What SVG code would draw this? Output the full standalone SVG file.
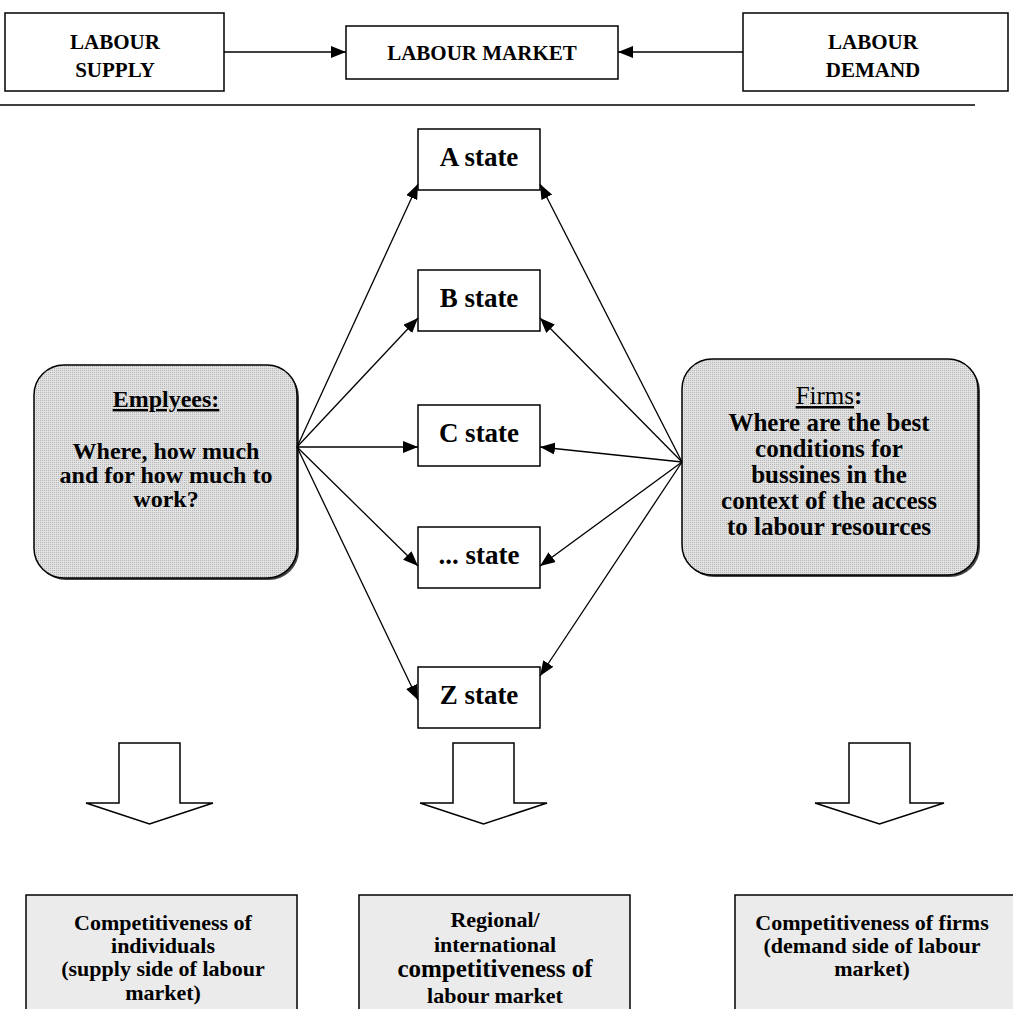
<svg xmlns="http://www.w3.org/2000/svg" width="1013" height="1009" viewBox="0 0 1013 1009">
  <style>
    .box { fill: #ffffff; stroke: #000000; stroke-width: 1.5; }
    .round { fill: url(#dots); stroke: #000000; stroke-width: 1.5; }
    .shadow { fill: #444444; }
    .resfill { fill: #ebebeb; stroke: none; }
    .resline { fill: none; stroke: #000000; stroke-width: 1.5; }
    .big { fill: #ffffff; stroke: #000000; stroke-width: 1.5; stroke-linejoin: miter; }
    .t { font-family: "Liberation Serif", "Times New Roman", serif; font-weight: bold; fill: #000000; text-anchor: middle; }
    .hdr { font-size: 21px; }
    .st { font-size: 27px; }
    .emp { font-size: 24px; }
    .frm { font-size: 25px; }
    .res { font-size: 22px; }
    .conn { stroke: #000000; stroke-width: 1.3; fill: none; }
  </style>
  <defs>
    <!-- fine dotted grey fill for the two actor boxes -->
    <pattern id="dots" patternUnits="userSpaceOnUse" width="2" height="2">
      <rect width="2" height="2" fill="#e2e2e2"/>
      <rect width="1" height="1" fill="#b4b4b4"/>
    </pattern>
    <marker id="head" markerUnits="userSpaceOnUse" markerWidth="16" markerHeight="12" refX="15" refY="6" orient="auto">
      <path d="M0,0 L15,6 L0,12 Z" fill="#000000"/>
    </marker>
  </defs>

  <!-- header row -->
  <g id="labour-supply">
    <rect class="box" x="5" y="13" width="219" height="78"/>
    <text class="t hdr" x="115" y="49">LABOUR</text>
    <text class="t hdr" x="115" y="77">SUPPLY</text>
  </g>
  <g id="labour-market">
    <rect class="box" x="346" y="26" width="272" height="53"/>
    <text class="t hdr" x="482" y="60">LABOUR MARKET</text>
  </g>
  <g id="labour-demand">
    <rect class="box" x="743" y="13" width="265" height="78"/>
    <text class="t hdr" x="873" y="49">LABOUR</text>
    <text class="t hdr" x="873" y="77">DEMAND</text>
  </g>
  <line x1="0" y1="105" x2="975" y2="105" stroke="#000000" stroke-width="1.5"/>

  <!-- states -->
  <g id="state-a">
    <rect class="box" x="418" y="129" width="122" height="61"/>
    <text class="t st" x="479" y="166">A state</text>
  </g>
  <g id="state-b">
    <rect class="box" x="418" y="270" width="122" height="61"/>
    <text class="t st" x="479" y="307">B state</text>
  </g>
  <g id="state-c">
    <rect class="box" x="418" y="405" width="122" height="61"/>
    <text class="t st" x="479" y="442">C state</text>
  </g>
  <g id="state-more">
    <rect class="box" x="418" y="527" width="122" height="61"/>
    <text class="t st" x="479" y="564">... state</text>
  </g>
  <g id="state-z">
    <rect class="box" x="418" y="667" width="122" height="61"/>
    <text class="t st" x="479" y="704">Z state</text>
  </g>

  <!-- actors -->
  <g id="employees">
    <rect class="shadow" x="36" y="367" width="263" height="213" rx="30"/>
    <rect class="round" x="34" y="365" width="263" height="213" rx="30"/>
    <text class="t emp" x="166" y="407" text-decoration="underline">Emplyees:</text>
    <text class="t emp" x="166" y="459">Where, how much</text>
    <text class="t emp" x="166" y="483">and for how much to</text>
    <text class="t emp" x="166" y="507">work?</text>
  </g>
  <g id="firms">
    <rect class="shadow" x="684" y="361" width="296" height="216" rx="30"/>
    <rect class="round" x="682" y="359" width="296" height="216" rx="30"/>
    <text class="t frm" x="829" y="404"><tspan font-weight="normal" text-decoration="underline">Firms</tspan>:</text>
    <text class="t frm" x="829" y="431">Where are the best</text>
    <text class="t frm" x="829" y="457">conditions for</text>
    <text class="t frm" x="829" y="483">bussines in the</text>
    <text class="t frm" x="829" y="509">context of the access</text>
    <text class="t frm" x="829" y="535">to labour resources</text>
  </g>

  <!-- block arrows down to outcomes -->
  <g id="arrow-left">
    <polygon class="big" points="119,743 180,743 180,803 213,803 149.5,824 86,803 119,803"/>
  </g>
  <g id="arrow-middle">
    <polygon class="big" points="453,743 514,743 514,803 547,803 483.5,824 420,803 453,803"/>
  </g>
  <g id="arrow-right">
    <polygon class="big" points="849,743 910,743 910,803 944,803 879.5,824 815,803 849,803"/>
  </g>

  <!-- outcomes (boxes run past the lower edge) -->
  <g id="outcome-individuals">
    <rect class="resfill" x="26" y="895" width="271" height="120"/>
    <path class="resline" d="M26,1012 L26,895 L297,895 L297,1012"/>
    <text class="t res" x="163" y="930">Competitiveness of</text>
    <text class="t res" x="163" y="953">individuals</text>
    <text class="t res" x="163" y="976">(supply side of labour</text>
    <text class="t res" x="163" y="1000">market)</text>
  </g>
  <g id="outcome-market">
    <rect class="resfill" x="359" y="895" width="271" height="120"/>
    <path class="resline" d="M359,1012 L359,895 L630,895 L630,1012"/>
    <text class="t res" x="495" y="927">Regional/</text>
    <text class="t res" x="495" y="952">international</text>
    <text class="t" x="495" y="977" font-size="25">competitiveness of</text>
    <text class="t res" x="495" y="1003">labour market</text>
  </g>
  <g id="outcome-firms">
    <rect class="resfill" x="735" y="895" width="285" height="120"/>
    <path class="resline" d="M735,1012 L735,895 L1016,895"/>
    <text class="t res" x="872" y="930">Competitiveness of firms</text>
    <text class="t res" x="872" y="953">(demand side of labour</text>
    <text class="t res" x="872" y="976">market)</text>
  </g>

  <!-- connectors -->
  <g id="connectors">
    <line class="conn" x1="224" y1="52" x2="346" y2="52" marker-end="url(#head)"/>
    <line class="conn" x1="743" y1="52" x2="618" y2="52" marker-end="url(#head)"/>

    <line class="conn" x1="297" y1="447" x2="418" y2="184" marker-end="url(#head)"/>
    <line class="conn" x1="297" y1="447" x2="418" y2="318" marker-end="url(#head)"/>
    <line class="conn" x1="297" y1="447" x2="418" y2="447" marker-end="url(#head)"/>
    <line class="conn" x1="297" y1="447" x2="418" y2="566" marker-end="url(#head)"/>
    <line class="conn" x1="297" y1="447" x2="418" y2="700" marker-end="url(#head)"/>

    <line class="conn" x1="682" y1="462" x2="540" y2="184" marker-end="url(#head)"/>
    <line class="conn" x1="682" y1="462" x2="540" y2="318" marker-end="url(#head)"/>
    <line class="conn" x1="682" y1="462" x2="540" y2="447" marker-end="url(#head)"/>
    <line class="conn" x1="682" y1="462" x2="540" y2="566" marker-end="url(#head)"/>
    <line class="conn" x1="682" y1="462" x2="540" y2="676" marker-end="url(#head)"/>
  </g>
</svg>
